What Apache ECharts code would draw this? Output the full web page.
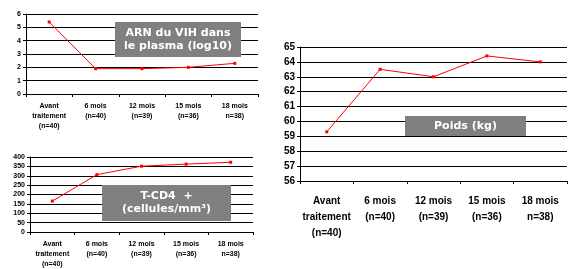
<!DOCTYPE html>
<html>
<head>
<meta charset="utf-8">
<script src="https://cdn.jsdelivr.net/npm/echarts@6/dist/echarts.min.js"></script>
<style>
    html, body { margin: 0; padding: 0; background: #fff; }
    #chart { width: 571px; height: 269px; }
</style>
</head>
<body>
<div id="chart"></div>
<script>
// Categories (shared by the three panels)
var categories = ['Avant\ntraitement\n(n=40)', '6 mois\n(n=40)', '12 mois\n(n=39)', '15 mois\n(n=36)', '18 mois\nn=38)'];

// Series values
var arnValues = [5.4, 1.9, 1.9, 2.0, 2.3];
var cd4Values = [165, 306, 351, 362, 372];
var poidsValues = [59.3, 63.5, 63.0, 64.4, 64.0];

// Panel titles
var arnTitle = 'ARN du VIH dans\nle plasma (log10)';
var cd4Title = 'T-CD4  +\n(cellules/mm³)';
var poidsTitle = 'Poids (kg)';

var chart_element = document.getElementById('chart');

if (chart_element) {

    var chart = echarts.init(chart_element);

    var labelFont = 'Liberation Sans, Arial, sans-serif';

    // Build one category axis
    var makeX = function (gridIndex, fontSize, lineHeight, margin) {
        return {
            type: 'category',
            gridIndex: gridIndex,
            data: categories,
            boundaryGap: true,
            axisLine: { lineStyle: { color: '#000', width: 1 } },
            axisTick: { show: true, length: 3, inside: false, lineStyle: { color: '#000' } },
            axisLabel: {
                interval: 0,
                color: '#000',
                fontWeight: 'bold',
                fontFamily: labelFont,
                fontSize: fontSize,
                lineHeight: lineHeight,
                margin: margin
            },
            splitLine: { show: false }
        };
    };

    // Build one value axis
    var makeY = function (gridIndex, min, max, interval, fontSize) {
        return {
            type: 'value',
            gridIndex: gridIndex,
            min: min,
            max: max,
            interval: interval,
            axisLine: { show: true, lineStyle: { color: '#000', width: 1 } },
            axisTick: { show: true, length: 3, lineStyle: { color: '#000' } },
            axisLabel: {
                color: '#000',
                fontWeight: 'bold',
                fontFamily: labelFont,
                fontSize: fontSize,
                margin: 5
            },
            splitLine: { show: true, lineStyle: { color: '#000', width: 1 } }
        };
    };

    var makeSeries = function (index, data) {
        return {
            type: 'line',
            xAxisIndex: index,
            yAxisIndex: index,
            data: data,
            symbol: 'rect',
            symbolSize: 3,
            color: '#ff0000',
            lineStyle: { color: '#ff0000', width: 1 },
            itemStyle: { color: '#ff0000' },
            z: 3
        };
    };

    // Gray label box drawn over the plot
    var makeBox = function (text, left, top, width, height, fontSize, lineHeight) {
        return {
            type: 'group',
            left: left,
            top: top,
            z: 100,
            zlevel: 1,
            children: [
                {
                    type: 'rect',
                    z: 100,
                    zlevel: 1,
                    shape: { x: 0, y: 0, width: width, height: height },
                    style: { fill: '#808080' }
                },
                {
                    type: 'text',
                    z: 101,
                    zlevel: 1,
                    x: width / 2,
                    y: height / 2,
                    style: {
                        text: text,
                        fill: '#fff',
                        font: 'bold ' + fontSize + 'px "DejaVu Sans", Verdana, sans-serif',
                        lineHeight: lineHeight,
                        align: 'center',
                        verticalAlign: 'middle'
                    }
                }
            ]
        };
    };

    chart.setOption({
        animation: false,
        backgroundColor: '#fff',

        graphic: [
            makeBox(arnTitle, 115, 22, 126, 35, 11, 13),
            makeBox(cd4Title, 102, 185, 129, 36, 11, 13),
            makeBox(poidsTitle, 405, 116, 121, 20, 11, 14)
        ],

        grid: [
            { left: 26, top: 14, width: 232, height: 80, containLabel: false },
            { left: 30, top: 157, width: 223, height: 81, containLabel: false },
            { left: 300, top: 47, width: 267, height: 134, containLabel: false }
        ],

        xAxis: [
            makeX(0, 7, 10, 7),
            makeX(1, 7, 10, 7),
            makeX(2, 10, 16, 12)
        ],

        yAxis: [
            makeY(0, 0, 6, 1, 7),
            makeY(1, 0, 400, 50, 7),
            makeY(2, 56, 65, 1, 10)
        ],

        series: [
            makeSeries(0, arnValues),
            makeSeries(1, cd4Values),
            makeSeries(2, poidsValues)
        ]
    });
}
</script>
</body>
</html>
